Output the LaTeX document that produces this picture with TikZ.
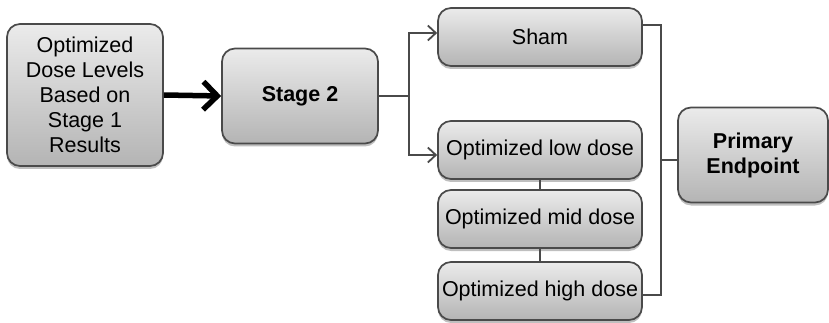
\documentclass[tikz,border=0pt]{standalone}
\usepackage{fontspec}
\setmainfont{Liberation Sans}
\usetikzlibrary{arrows.meta,shadows}
\definecolor{edge}{HTML}{4A4A4A}
\definecolor{topc}{HTML}{EBEBEB}
\definecolor{botc}{HTML}{B4B4B4}
\tikzset{
  box/.style={draw=edge, line width=1.7pt, rounded corners=13pt, top color=topc, bottom color=botc,
    inner sep=0pt, align=center, font=\fontsize{21.5}{25}\selectfont,
    drop shadow={shadow xshift=0pt, shadow yshift=-3pt, opacity=0.25, fill=black}},
  conn/.style={draw=edge, line width=1.8pt},
  arr/.style={conn, -{Straight Barb[length=8pt,width=15pt,line width=1.8pt]}},
  bigarr/.style={draw=black, line width=5.5pt, -{Straight Barb[length=14pt,width=28pt,line width=5.5pt]}}
}
\begin{document}
\begin{tikzpicture}[x=1pt,y=-1pt]
\useasboundingbox (0,0) rectangle (829,323);
\node[box, minimum width=156, minimum height=142] (b1) at (85,95) {Optimized\\Dose Levels\\Based on\\Stage 1\\Results};
\node[box, minimum width=156, minimum height=95, font=\fontsize{21.5}{25}\selectfont\bfseries] (s2) at (300,96) {Stage 2};
\node[box, minimum width=204, minimum height=58] (sham) at (540,37) {Sham};
\node[box, minimum width=204, minimum height=58] (low) at (540,150) {Optimized low dose};
\node[box, minimum width=204, minimum height=58] (mid) at (540,219) {Optimized mid dose};
\node[box, minimum width=204, minimum height=58] (high) at (540,291) {Optimized high dose};
\node[box, minimum width=150, minimum height=95, font=\fontsize{21.5}{25}\selectfont\bfseries] (pe) at (753,155) {Primary\\Endpoint};
\draw[bigarr] (b1.east) -- (s2.west);
\draw[conn] (s2.east) -- ++(30,0) coordinate (j1);
\draw[arr] (j1) |- ([yshift=4]sham.west);
\draw[arr] (j1) |- ([yshift=-5]low.west);
\draw[conn] (low.south) -- (mid.north);
\draw[conn] (mid.south) -- (high.north);
\coordinate (j2) at (661,160);
\draw[conn] ([yshift=12]sham.east) -| (j2) |- ([yshift=-4]high.east);
\draw[conn] (j2) -- (pe.west |- j2);
\end{tikzpicture}
\end{document}
